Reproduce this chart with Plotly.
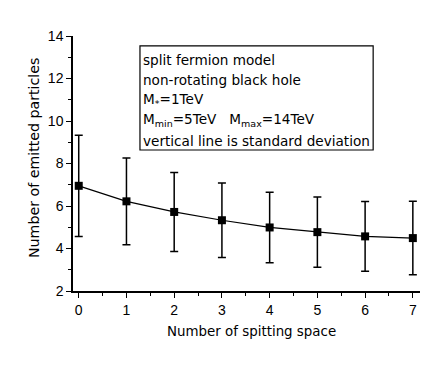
import plotly.graph_objects as go

splitting_space = [0, 1, 2, 3, 4, 5, 6, 7]
emitted_mean = [6.95, 6.22, 5.72, 5.33, 4.99, 4.77, 4.57, 4.49]
emitted_std = [2.38, 2.04, 1.86, 1.75, 1.66, 1.65, 1.64, 1.73]
x_ticks = [0, 1, 2, 3, 4, 5, 6, 7]
y_ticks = [2, 4, 6, 8, 10, 12, 14]
x_title = "Number of spitting space"
y_title = "Number of emitted particles"
box_lines = [
    "split fermion model",
    "non-rotating black hole",
    "M<sub>*</sub>=1TeV",
    "M<sub>min</sub>=5TeV   M<sub>max</sub>=14TeV",
    "vertical line is standard deviation",
]

FONT = "Liberation Sans, Arial, sans-serif"
WIDE = "DejaVu Sans, sans-serif"

fig = go.Figure()
fig.add_trace(go.Scatter(
    x=splitting_space, y=emitted_mean, mode="lines+markers",
    line=dict(color="black", width=1.2),
    marker=dict(symbol="square", size=8, color="black"),
    error_y=dict(type="data", array=emitted_std, visible=True,
                 color="black", thickness=1.5, width=4),
    showlegend=False,
))

axis_common = dict(
    showline=True, linecolor="black", linewidth=1.5, mirror=False,
    ticks="outside", ticklen=5, tickwidth=1.2, tickcolor="black",
    showgrid=False, zeroline=False, automargin=False,
    tickfont=dict(family=FONT, size=14, color="black"),
)

fig.update_layout(
    width=443, height=367,
    margin=dict(l=73, r=23, t=36, b=76),
    paper_bgcolor="white", plot_bgcolor="white",
    font=dict(family=FONT, color="black"),
    xaxis=dict(range=[-0.12, 7.15], tickvals=x_ticks,
               minor=dict(ticks="outside", ticklen=3, tickcolor="black", dtick=0.5, tick0=0),
               **axis_common),
    yaxis=dict(range=[2, 14], tickvals=y_ticks,
               minor=dict(ticks="outside", ticklen=3, tickcolor="black", dtick=1, tick0=0),
               **axis_common),
)

# axis titles placed as annotations to match the reference positions
fig.add_annotation(xref="paper", yref="paper", x=0.513, y=-0.157, text=x_title,
                   showarrow=False, xanchor="center", yanchor="middle",
                   font=dict(family=WIDE, size=13.4, color="black"))
fig.add_annotation(xref="paper", yref="paper", x=-0.112, y=0.522, text=y_title,
                   showarrow=False, xanchor="center", yanchor="middle", textangle=-90,
                   font=dict(family=WIDE, size=14.2, color="black"))

fig.add_shape(type="rect", xref="paper", yref="paper",
              x0=0.193, x1=0.865, y0=0.553, y1=0.961,
              line=dict(color="black", width=1.2), fillcolor="white")

line_y = [0.905, 0.827, 0.749, 0.670, 0.588]
for txt, yy in zip(box_lines, line_y):
    fig.add_annotation(xref="paper", yref="paper", x=0.196, y=yy, text=txt,
                       showarrow=False, xanchor="left", yanchor="middle",
                       font=dict(family=WIDE, size=13.6, color="black"))

fig.write_html("out.html", config={"displayModeBar": False},
               post_script="document.body.style.margin='0';")
